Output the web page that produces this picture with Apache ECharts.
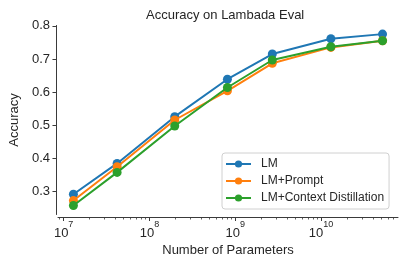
<!DOCTYPE html>
<html>
<head>
<meta charset="utf-8">
<script src="https://cdn.jsdelivr.net/npm/echarts@6/dist/echarts.min.js"></script>
<style>
html,body{margin:0;padding:0;background:#fff;}
#chart{width:407px;height:271px;}
</style>
</head>
<body>
<div id="chart"></div>
<script>
// ---- data ----
const params = [13e6, 42e6, 197e6, 810e6, 2.7e9, 13e9, 52e9];
const lmAcc = [0.292, 0.385, 0.526, 0.639, 0.715, 0.761, 0.775];
const promptAcc = [0.273, 0.375, 0.516, 0.604, 0.687, 0.735, 0.755];
const distillAcc = [0.258, 0.358, 0.498, 0.614, 0.697, 0.737, 0.755];
const seriesNames = ['LM', 'LM+Prompt', 'LM+Context Distillation'];
const xMajorExponents = [7, 8, 9, 10];
const yTicks = [0.3, 0.4, 0.5, 0.6, 0.7, 0.8];

const xMin = 6.934, xMax = 10.896;
const yMin = 0.231, yMax = 0.801;

const minorTicks = [];
for (let d = 6; d <= 10; d++) {
  for (let k = 2; k <= 9; k++) {
    const v = Math.log10(k * Math.pow(10, d));
    if (v >= xMin && v <= xMax) minorTicks.push(v);
  }
}

function pts(ys) { return params.map((p, i) => [Math.log10(p), ys[i]]); }

const colors = ['#1f77b4', '#ff7f0e', '#2ca02c'];
const font = "'Liberation Sans', Arial, sans-serif";
const axisColor = '#3a3a3a';
const textColor = '#262626';

const richBase = {
  b: {fontFamily: font, fontSize: 13, lineHeight: 13, color: textColor},
  hb: {fontFamily: font, fontSize: 13, lineHeight: 13, color: 'rgba(0,0,0,0)'},
  s: {fontFamily: font, fontSize: 9, lineHeight: 13, color: textColor},
  hs: {fontFamily: font, fontSize: 9, lineHeight: 13, color: 'rgba(0,0,0,0)'}
};

const chart = echarts.init(document.getElementById('chart'), null, {renderer: 'canvas'});
chart.setOption({
  animation: false,
  backgroundColor: '#fff',
  textStyle: {fontFamily: font},
  title: {
    text: 'Accuracy on Lambada Eval',
    left: 146, top: 9, padding: 0,
    textStyle: {fontFamily: font, fontSize: 13, fontWeight: 'normal', color: textColor}
  },
  grid: {left: 54.5, right: 9, top: 25.5, bottom: 56.5, containLabel: false},
  legend: {
    orient: 'vertical',
    left: 222, top: 153,
    padding: [5, 5, 5, 3],
    itemWidth: 25, itemHeight: 9, itemGap: 5,
    backgroundColor: '#fff',
    borderColor: '#d0d0d0', borderWidth: 1, borderRadius: 3,
    textStyle: {fontFamily: font, fontSize: 12, color: textColor, padding: [0, 0, 0, 5]},
    data: seriesNames
  },
  xAxis: [{
    type: 'value', min: xMin, max: xMax,
    position: 'bottom', offset: 3,
    name: 'Number of Parameters', nameLocation: 'middle', nameGap: 21,
    nameTextStyle: {fontFamily: font, fontSize: 13, color: textColor},
    axisLine: {show: true, lineStyle: {color: axisColor, width: 1}},
    axisTick: {show: true, inside: false, length: 3.5, customValues: xMajorExponents, lineStyle: {color: axisColor, width: 1}},
    axisLabel: {
      customValues: xMajorExponents, margin: 9,
      formatter: v => '{b|10}{hs|' + Math.round(v) + '}',
      rich: richBase
    },
    splitLine: {show: false}
  }, {
    type: 'value', min: xMin, max: xMax,
    position: 'bottom', offset: 3,
    axisLine: {show: false},
    axisTick: {show: true, inside: false, length: 2, customValues: minorTicks, lineStyle: {color: axisColor, width: 0.8}},
    axisLabel: {
      customValues: xMajorExponents, margin: 1,
      formatter: v => '{hb|10}{s|' + Math.round(v) + '}',
      rich: richBase
    },
    splitLine: {show: false}
  }],
  yAxis: {
    type: 'value', min: yMin, max: yMax,
    position: 'left', offset: 2,
    name: 'Accuracy', nameLocation: 'middle', nameGap: 25, nameRotate: 90,
    nameTextStyle: {fontFamily: font, fontSize: 13, color: textColor},
    axisLine: {show: true, lineStyle: {color: axisColor, width: 1}},
    axisTick: {show: true, inside: false, length: 3.5, customValues: yTicks, lineStyle: {color: axisColor, width: 1}},
    axisLabel: {customValues: yTicks, margin: 6, fontFamily: font, fontSize: 13, color: textColor,
      formatter: v => v.toFixed(1)},
    splitLine: {show: false}
  },
  series: [
    {name: seriesNames[0], data: pts(lmAcc)},
    {name: seriesNames[1], data: pts(promptAcc)},
    {name: seriesNames[2], data: pts(distillAcc)}
  ].map((s, i) => Object.assign({
    type: 'line', xAxisIndex: 0, yAxisIndex: 0,
    symbol: 'circle', symbolSize: 9, showSymbol: true,
    color: colors[i],
    lineStyle: {color: colors[i], width: 2},
    itemStyle: {color: colors[i], borderWidth: 0},
    z: 2 + i
  }, s))
});
</script>
</body>
</html>
